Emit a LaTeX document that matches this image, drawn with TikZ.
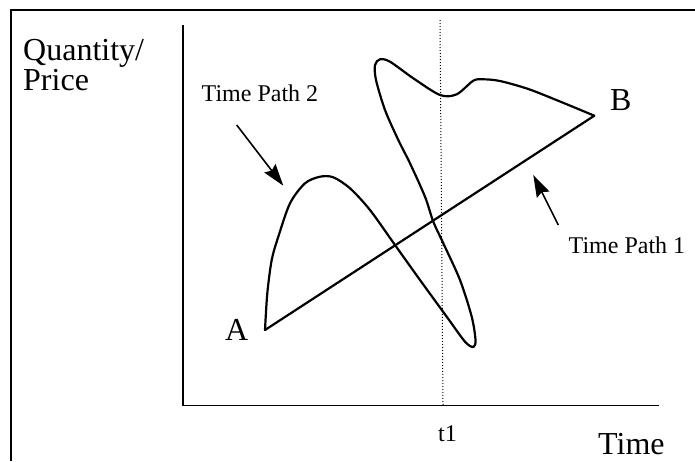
\documentclass[tikz,border=0pt]{standalone}
\usepackage{fontspec}
\setmainfont{Liberation Serif}
\usetikzlibrary{arrows.meta}
\begin{document}
\begin{tikzpicture}[x=1pt,y=-1pt,
  big/.style={font=\fontsize{32}{30}\selectfont,inner sep=0pt,anchor=base west},
  small/.style={font=\fontsize{24}{26}\selectfont,inner sep=0pt,anchor=base west},
  curve/.style={line width=2.2pt,line join=round,line cap=round},
  axis/.style={line width=1.7pt},
  pointer/.style={line width=1.6pt,-{Stealth[length=22pt,width=14pt,inset=3pt]}}]
\useasboundingbox (0,0) rectangle (695,461);
% frame
\coordinate (f1) at (695,10);
\coordinate (f2) at (11,10);
\coordinate (f3) at (11,461);
\draw[line width=2.2pt] (f1) -- (f2) -- (f3);
% axes
\coordinate (ytop) at (183,25);
\coordinate (orig) at (183,405.5);
\coordinate (xend) at (659,405.5);
\draw[axis] (ytop) -- (orig) -- (xend);
% t1 dotted
\coordinate (dtop) at (440,20);
\coordinate (dbot) at (443,405);
\draw[dotted,line width=1pt] (dtop) -- (dbot);
% labels
\node[big] (qty) at (23,60) {Quantity/};
\node[big] (price) at (23,90) {Price};
\node[big] (time) at (598,454) {Time};
\node[small] (t1) at (438,441.5) {t1};
\node[big] (lA) at (225,340) {A};
\node[big] (lB) at (610,110) {B};
\node[small] (tp2) at (201.5,101) {Time Path 2};
\node[small] (tp1) at (568.5,253) {Time Path 1};
% points
\coordinate (pA) at (265,330);
\coordinate (pB) at (594.3,115.7);
% Time path 1
\draw[curve] (pA) -- (pB);
% Time path 2
\draw[curve] plot[smooth,tension=0.5] coordinates {
 (265,330) (267.3,293.3) (271.7,260) (278.3,236.7) (290,203.3) (305,183.3)
 (320,176.7) (333.3,177.3) (350,188.3) (370,210) (395,245) (420,280)
 (446.7,316.7) (465,341.7) (473.3,347) (475.5,340) (471.7,316.7) (460,280)
 (443.3,243.3) (433.3,221.7) (425,196.7) (410,163.3) (398.3,140) (385,110)
 (376,80) (375,65) (380,59.3) (390,61.7) (413.3,78.3) (440,95) (456.7,94.3)
 (473.3,80.7) (483.3,79.3) (500,81) (528.3,89) (560,101.5)
 (594.3,115.7)};
% pointers
\coordinate (a2s) at (236.7,125);
\coordinate (a2e) at (283.3,185.7);
\coordinate (a1s) at (558.3,225);
\coordinate (a1e) at (533.3,175);
\draw[pointer] (a2s) -- (a2e);
\draw[pointer] (a1s) -- (a1e);
\end{tikzpicture}
\end{document}
